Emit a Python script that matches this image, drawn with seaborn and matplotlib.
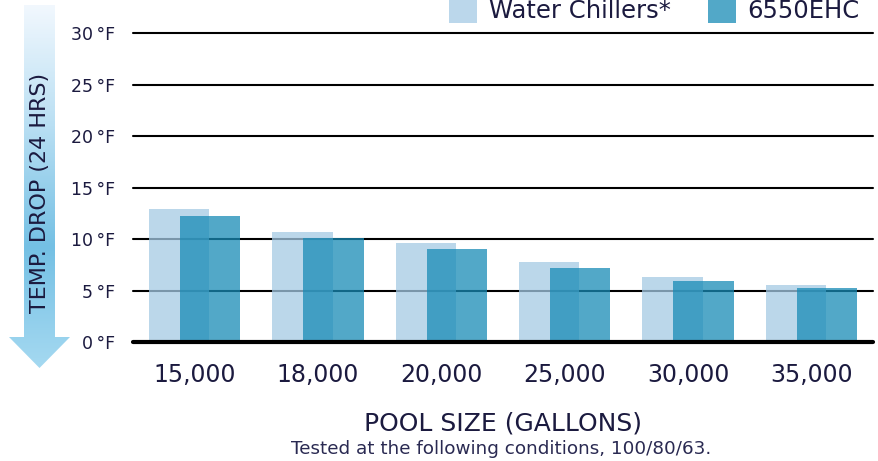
import numpy as np
import pandas as pd
import matplotlib
matplotlib.use('Agg')
import matplotlib.pyplot as plt
import seaborn as sns
from matplotlib.patches import Patch, Polygon
from matplotlib.colors import LinearSegmentedColormap

# Data
pool_sizes = ['15,000', '18,000', '20,000', '25,000', '30,000', '35,000']
water_chillers = [12.9, 10.7, 9.6, 7.8, 6.3, 5.5]
ehc_6550 = [12.2, 10.1, 9.0, 7.2, 5.9, 5.2]
series_names = ['Water Chillers*', '6550EHC']
y_ticks = [0, 5, 10, 15, 20, 25, 30]
y_tick_labels = [f'{t}\u2009°F' for t in y_ticks]

data = pd.DataFrame({
    'size': pool_sizes * 2,
    'drop': water_chillers + ehc_6550,
    'series': [series_names[0]] * 6 + [series_names[1]] * 6,
})

sns.set_style('white')
plt.rcParams['font.family'] = ['DejaVu Sans']
navy = '#1b1a3f'

fig = plt.figure(figsize=(8.79, 4.61), dpi=100)

# background axes for the gradient arrow
bg = fig.add_axes([0, 0, 1, 1], zorder=0)
bg.set_xlim(0, 879)
bg.set_ylim(461, 0)
bg.axis('off')
cmap = LinearSegmentedColormap.from_list('arrow', ['#f2f8fe', '#b9dff3', '#74c0e4', '#a5d9f1'])
grad = np.linspace(0, 1, 256).reshape(-1, 1)
img = bg.imshow(grad, cmap=cmap, extent=(9, 70, 368, 5), aspect='auto')
arrow = Polygon([(24, 5), (55, 5), (55, 337), (70, 337), (39.5, 368), (9, 337), (24, 337)],
                closed=True, transform=bg.transData, facecolor='none', edgecolor='none')
bg.add_patch(arrow)
img.set_clip_path(arrow)
bg.text(40, 193, 'TEMP. DROP (24 HRS)', rotation=90, ha='center', va='center',
        fontsize=16, color=navy)

ax = fig.add_axes([133 / 879, 1 - 342 / 461, 740 / 879, 309 / 461], zorder=1)
ax.patch.set_alpha(0)
sns.barplot(data=data, x='size', y='drop', hue='series', hue_order=series_names,
            palette=['#a4cae4', '#188bb6'], width=0.5, gap=-0.96, saturation=1,
            alpha=0.75, linewidth=0, errorbar=None, legend=False, ax=ax)

ax.set_xlim(-0.5, 5.5)
ax.set_ylim(0, 30)
ax.set_yticks(y_ticks)
ax.set_yticklabels(y_tick_labels)
ax.set_axisbelow(True)
ax.yaxis.grid(True, color='black', linewidth=1.5)
for line in ax.get_ygridlines():
    line.set_clip_on(False)
ax.axhline(0, color='black', linewidth=3, zorder=5, clip_on=False)
sns.despine(ax=ax, left=True, bottom=True)
ax.tick_params(axis='y', length=0, pad=13, labelsize=12.5, labelcolor=navy)
ax.tick_params(axis='x', length=0, pad=15, labelsize=17, labelcolor=navy)
ax.set_xlabel('')
ax.set_ylabel('')

fig.text(503 / 879, 1 - 430 / 461, 'POOL SIZE (GALLONS)', ha='center', va='baseline',
         fontsize=18, color=navy)
fig.text(501 / 879, 1 - 454 / 461, 'Tested at the following conditions, 100/80/63.',
         ha='center', va='baseline', fontsize=13.2, color='#2a2a52')

handles = [Patch(facecolor='#bbd7eb', edgecolor='none'),
           Patch(facecolor='#52a8c8', edgecolor='none')]
fig.legend(handles, series_names, loc='center right', bbox_to_anchor=(860 / 879, 1 - 10 / 461),
           ncol=2, frameon=False, fontsize=17.5, labelcolor=navy, handlelength=1.15,
           handleheight=1.3, handletextpad=0.5, columnspacing=1.5, borderpad=0,
           borderaxespad=0)

fig.savefig('out.png', dpi=100)
